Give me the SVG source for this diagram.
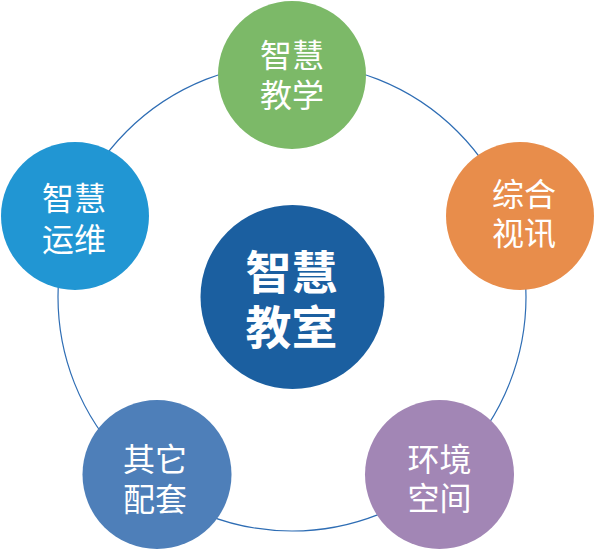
<svg xmlns="http://www.w3.org/2000/svg" width="595" height="550" viewBox="0 0 595 550">
<style>
.t{font-family:"Noto Sans CJK SC","Noto Sans",sans-serif;font-size:32px;fill:#ffffff;text-anchor:middle}
.c{font-family:"Noto Sans CJK SC","Noto Sans",sans-serif;font-size:46px;font-weight:bold;fill:#ffffff;text-anchor:middle}
.ring{fill:none;stroke:#2e6db4;stroke-width:1.2}
</style>
<rect width="595" height="550" fill="#ffffff"/>
<g id="connectors">
<circle class="ring" cx="292" cy="297" r="234"/>
</g>
<g id="node-center">
<circle cx="292.5" cy="297" r="92" fill="#1b5fa0"/>
<text class="c" x="291.5" y="288.5">智慧</text>
<text class="c" x="291.5" y="343.5">教室</text>
</g>
<g id="node-teaching">
<circle cx="292" cy="75" r="74" fill="#7cb968"/>
<text class="t" x="292" y="67">智慧</text>
<text class="t" x="292" y="107">教学</text>
</g>
<g id="node-av">
<circle cx="520" cy="216" r="74" fill="#e88d4b"/>
<text class="t" x="524" y="206">综合</text>
<text class="t" x="524" y="244.5">视讯</text>
</g>
<g id="node-ops">
<circle cx="75" cy="216" r="74" fill="#2196d3"/>
<text class="t" x="74" y="209.5">智慧</text>
<text class="t" x="74" y="250.5">运维</text>
</g>
<g id="node-other">
<circle cx="157" cy="474.5" r="74.5" fill="#4e7fb9"/>
<text class="t" x="155" y="471">其它</text>
<text class="t" x="155" y="510.5">配套</text>
</g>
<g id="node-space">
<circle cx="439.5" cy="474.5" r="74.5" fill="#a286b5"/>
<text class="t" x="439.5" y="471">环境</text>
<text class="t" x="439.5" y="509.5">空间</text>
</g>
</svg>
